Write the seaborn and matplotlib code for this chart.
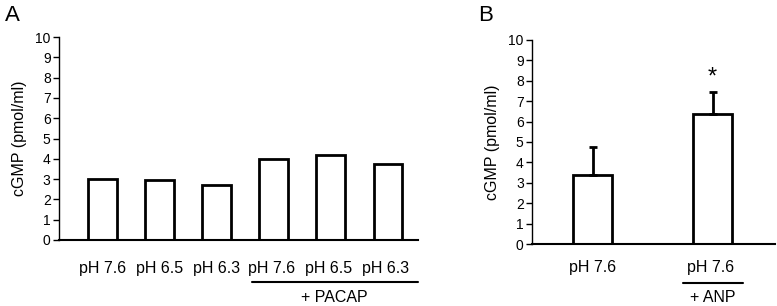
import matplotlib
matplotlib.use("Agg")
import matplotlib.pyplot as plt
import matplotlib.transforms as mtransforms
import seaborn as sns
import pandas as pd

sns.set_theme(style="white")
plt.rcParams['font.family'] = ['Liberation Sans', 'DejaVu Sans']

# Panel A data
a_labels = ["pH 7.6", "pH 6.5", "pH 6.3", "pH 7.6 ", "pH 6.5 ", "pH 6.3 "]
a_values = [3.0, 2.96, 2.7, 4.0, 4.2, 3.75]
# Panel B data
b_labels = ["pH 7.6", "pH 7.6 "]
b_values = [3.4, 6.35]
b_errors = [1.35, 1.08]
y_ticks = list(range(0, 11))

fig = plt.figure(figsize=(7.77, 3.06), dpi=100)
axA = fig.add_axes([0.0759, 0.2157, 0.4621, 0.6633])
axB = fig.add_axes([0.6847, 0.2026, 0.3127, 0.6667])

dfA = pd.DataFrame({"cond": a_labels, "val": a_values})
dfB = pd.DataFrame({"cond": b_labels, "val": b_values})

sns.barplot(data=dfA, x="cond", y="val", order=a_labels, ax=axA,
            color="white", edgecolor="black", linewidth=2, width=0.5, errorbar=None)
sns.barplot(data=dfB, x="cond", y="val", order=b_labels, ax=axB,
            color="white", edgecolor="black", linewidth=2, width=0.325, errorbar=None)

axB.errorbar(range(len(b_values)), b_values, yerr=[[0] * len(b_errors), b_errors],
             fmt="none", ecolor="black", elinewidth=2, capsize=3, capthick=2, zorder=1)

for ax in (axA, axB):
    ax.set_ylim(0, 10)
    ax.set_yticks(y_ticks)
    ax.set_ylabel("cGMP (pmol/ml)", fontsize=11.5, color="black", labelpad=6)
    ax.set_xlabel("")
    for s in ("top", "right"):
        ax.spines[s].set_visible(False)
    ax.spines["left"].set_color("black")
    ax.spines["left"].set_linewidth(1)
    ax.spines["bottom"].set_color("black")
    ax.spines["bottom"].set_linewidth(1.5)
    ax.tick_params(axis="y", left=True, length=4, width=1, color="black",
                   labelsize=10, labelcolor="black", pad=2)
    ax.tick_params(axis="x", bottom=False, labelsize=11.5, labelcolor="black")

axA.tick_params(axis="x", pad=9)
axB.tick_params(axis="x", pad=5.5)

axA.set_xlim(-0.76, 5.53)
axB.set_xlim(-0.504, 1.52)

# asterisk
axB.text(1, 7.6, "*", ha="center", va="bottom", fontsize=17, color="black")

# group lines
trA = mtransforms.blended_transform_factory(axA.transData, axA.transAxes)
axA.plot([2.62, 5.53], [-0.207, -0.207], color="black", lw=1.5, transform=trA, clip_on=False)
axA.text(4.07, -0.245, "+ PACAP", transform=trA, ha="center", va="top", fontsize=11.5, color="black")

trB = mtransforms.blended_transform_factory(axB.transData, axB.transAxes)
axB.plot([0.754, 1.254], [-0.192, -0.192], color="black", lw=1.5, transform=trB, clip_on=False)
axB.text(1.0, -0.225, "+ ANP", transform=trB, ha="center", va="top", fontsize=11.5, color="black")

fig.text(0.006, 0.985, "A", fontsize=16, ha="left", va="top", color="black")
fig.text(0.615, 0.985, "B", fontsize=16, ha="left", va="top", color="black")

fig.savefig("out.png", dpi=100)
